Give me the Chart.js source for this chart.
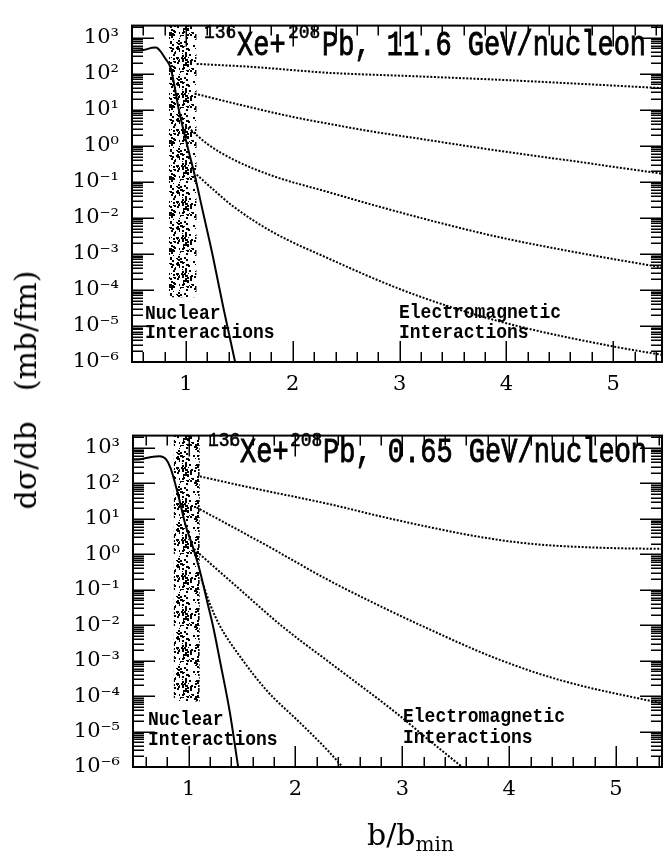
<!DOCTYPE html>
<html lang="en">
<head>
<meta charset="utf-8">
<title>Xe + Pb impact parameter distributions</title>
<script src="https://cdn.jsdelivr.net/npm/chart.js@4.4.1/dist/chart.umd.min.js"></script>
<style>
  html, body { margin: 0; padding: 0; background: #fff; }
  #figure { position: relative; width: 663px; height: 853px; overflow: hidden; background: #fff; }
  #figure canvas { position: absolute; left: 0; }
  #cvTop { top: 0; }
  #cvBottom { top: 410px; }
  .axis-title { position: absolute; font-family: "DejaVu Serif", serif; color: #000; white-space: nowrap; line-height: 1; }
  #yTitle { left: 26px; top: 390px; font-size: 30px; transform: translate(-50%, -50%) rotate(-90deg); }
  #yTitle .unit { margin-left: 30px; }
  #xTitle { left: 367px; top: 820px; font-size: 30px; }
  #xTitle sub { font-size: 20px; vertical-align: -6px; line-height: 0; }
</style>
</head>
<body>
<div id="figure">
  <canvas id="cvTop" width="663" height="410"></canvas>
  <canvas id="cvBottom" width="663" height="443"></canvas>
  <div class="axis-title" id="yTitle">dσ/db<span class="unit">(mb/fm)</span></div>
  <div class="axis-title" id="xTitle">b/b<sub>min</sub></div>
</div>
<script>
// x: b/b_min, y: dσ/db in mb/fm

// --- 11.6 GeV/nucleon ---
const topNuclearB   = [0.495, 0.6, 0.68, 0.72, 0.76, 0.8, 0.85, 0.88, 0.93, 1.0, 1.08, 1.16, 1.25, 1.35, 1.46];
const topNuclearSig = [440, 450, 520, 535, 420, 280, 160, 70, 11, 1.4, 0.16, 0.014, 9e-4, 3.2e-5, 1e-6];
const topEm1B   = [1.1, 1.6, 2.35, 3.13, 3.91, 4.7, 5.5];
const topEm1Sig = [186, 155, 105, 85, 68, 52, 39];
const topEm2B   = [1.08, 1.5, 2.0, 2.35, 2.7, 3.13, 3.91, 4.7, 5.5];
const topEm2Sig = [28, 13.8, 6.3, 4.0, 2.6, 1.66, 0.74, 0.35, 0.16];
const topEm3B   = [1.02, 1.2, 1.44, 1.8, 2.35, 2.82, 3.35, 3.91, 4.69, 5.5];
const topEm3Sig = [3.2, 1.12, 0.42, 0.15, 0.05, 0.02, 7.6e-3, 3.0e-3, 1.05e-3, 4.0e-4];
const topEm4B   = [1.1, 1.25, 1.44, 1.8, 2.35, 2.98, 3.5, 4.1, 5.0, 5.5];
const topEm4Sig = [0.158, 0.063, 0.021, 4.2e-3, 7.1e-4, 1.12e-4, 3.2e-5, 1.0e-5, 2.7e-6, 1.5e-6];
const topShadeB = [0.84, 1.1];
const topShadeFloor = 6.3e-5;

// --- 0.65 GeV/nucleon ---
const botNuclearB   = [0.48, 0.55, 0.65, 0.73, 0.79, 0.83, 0.87, 0.92, 0.97, 1.03, 1.1, 1.18, 1.23, 1.3, 1.386, 1.464];
const botNuclearSig = [470, 480, 560, 590, 480, 280, 112, 29, 6.9, 2.0, 0.4, 0.039, 9.1e-3, 7.9e-4, 3.5e-5, 1e-6];
const botEm1B   = [1.106, 1.6, 2.32, 2.8, 3.26, 3.7, 4.19, 4.81, 5.5];
const botEm1Sig = [158, 74, 26, 11.7, 5.8, 3.2, 2.0, 1.55, 1.41];
const botEm2B   = [1.075, 1.7, 2.32, 2.75, 3.2, 3.88, 4.5, 5.5];
const botEm2Sig = [21, 2.0, 0.18, 0.04, 9.1e-3, 1.15e-3, 2.7e-4, 5.6e-5];
const botEm3B   = [1.05, 1.45, 1.88, 2.32, 2.94, 3.26, 3.56, 3.6];
const botEm3Sig = [1.41, 0.123, 9.1e-3, 8.9e-4, 3.4e-5, 5.4e-6, 1e-6, 8e-7];
const botEm4B   = [1.12, 1.2, 1.29, 1.5, 1.73, 2.04, 2.29, 2.44, 2.5];
const botEm4Sig = [0.2, 0.04, 0.01, 1.1e-3, 1.45e-4, 1.8e-5, 3.2e-6, 1e-6, 6e-7];
const botShadeB = [0.86, 1.105];
const botShadeFloor = 7e-5;

// axis ticks
const yDecades = [-6, -5, -4, -3, -2, -1, 0, 1, 2, 3];
const xTickLabels = [1, 2, 3, 4, 5];

// ---------------------------------------------------------------

const SUP = { '-': '\u207B', '0': '\u2070', '1': '\u00B9', '2': '\u00B2', '3': '\u00B3',
  '4': '\u2074', '5': '\u2075', '6': '\u2076', '7': '\u2077', '8': '\u2078', '9': '\u2079' };
const sup = (s) => String(s).split('').map((c) => SUP[c]).join('');
const pts = (xs, ys) => xs.map((x, i) => ({ x: x, y: ys[i] }));

// speckled fill used for the nuclear-radius band
function stipple() {
  const c = document.createElement('canvas');
  c.width = 36; c.height = 36;
  const g = c.getContext('2d');
  g.fillStyle = '#000';
  for (let i = 0; i < 170; i++) {
    const hx = Math.abs(Math.sin(i * 12.9898) * 43758.5453) % 1;
    const hy = Math.abs(Math.sin(i * 78.233) * 24634.6345) % 1;
    const s = i % 3 === 0 ? 1 : 2;
    g.fillRect(Math.floor(hx * 36), Math.floor(hy * 36), s, s);
  }
  return g.createPattern(c, 'repeat');
}

function stretchText(ctx, text, x, base, font, sy, weight) {
  ctx.save();
  ctx.translate(x, base);
  ctx.scale(1, sy);
  ctx.font = font;
  ctx.fillText(text, 0, 0);
  if (weight) {
    ctx.lineWidth = weight;
    ctx.strokeText(text, 0, 0);
  }
  ctx.restore();
}

// frame, inward ticks on all four sides, and in-plot labels
function panelDecor(t) {
  return {
    id: 'panelDecor',
    afterDraw(chart) {
      const { ctx, chartArea: a, scales: { x, y } } = chart;
      ctx.save();
      ctx.strokeStyle = '#000';
      ctx.lineWidth = 1.5;
      ctx.beginPath();
      yDecades.forEach((e) => {
        for (let k = 1; k <= 9; k++) {
          const v = k * Math.pow(10, e);
          if (v < y.min * 0.999 || v > y.max) continue;
          const py = Math.round(y.getPixelForValue(v)) + 0.25;
          const len = k === 1 ? 22 : 11;
          ctx.moveTo(a.left, py); ctx.lineTo(a.left + len, py);
          ctx.moveTo(a.right, py); ctx.lineTo(a.right - len, py);
        }
      });
      for (let i = 1; i <= 30; i++) {
        const v = i / 5;
        if (v <= x.min || v >= x.max) continue;
        const px = Math.round(x.getPixelForValue(v)) + 0.25;
        const len = i % 5 === 0 ? 21 : 10;
        ctx.moveTo(px, a.bottom); ctx.lineTo(px, a.bottom - len);
        ctx.moveTo(px, a.top); ctx.lineTo(px, a.top + len);
      }
      ctx.stroke();
      ctx.lineWidth = 2;
      ctx.strokeRect(a.left, a.top, a.right - a.left, a.bottom - a.top);

      ctx.fillStyle = '#000';
      ctx.strokeStyle = '#000';
      ctx.textAlign = 'left';
      ctx.textBaseline = 'alphabetic';
      const big = '27px "Liberation Mono"';
      const small = '18px "Liberation Mono"';
      const lab = 'bold 18px "Liberation Mono"';
      stretchText(ctx, '136', t.sup1[0], t.sup1[1], small, 1.15, 0.5);
      stretchText(ctx, 'Xe+', t.xe[0], t.xe[1], big, 1.3, 0.7);
      stretchText(ctx, '208', t.sup2[0], t.sup2[1], small, 1.15, 0.5);
      stretchText(ctx, 'Pb, ' + t.beam, t.pb[0], t.pb[1], big, 1.3, 0.7);
      stretchText(ctx, 'Nuclear', t.nuc[0], t.nuc[1], lab, 1.1);
      stretchText(ctx, 'Interactions', t.nuc[0], t.nuc[2], lab, 1.1);
      stretchText(ctx, 'Electromagnetic', t.em[0], t.em[1], lab, 1.1);
      stretchText(ctx, 'Interactions', t.em[0], t.em[2], lab, 1.1);
      ctx.restore();
    }
  };
}

function emLine(xs, ys) {
  return { data: pts(xs, ys), borderColor: '#000', borderWidth: 2, borderDash: [2, 1.6],
    cubicInterpolationMode: 'monotone', pointRadius: 0, fill: false, clip: 0 };
}

function buildPanel(canvas, p) {
  const pattern = stipple();
  const datasets = [
    { data: pts(p.nucB, p.nucSig), borderColor: '#000', borderWidth: 2,
      cubicInterpolationMode: 'monotone', pointRadius: 0, fill: false, clip: 0 },
    emLine(p.em[0][0], p.em[0][1]),
    emLine(p.em[1][0], p.em[1][1]),
    emLine(p.em[2][0], p.em[2][1]),
    emLine(p.em[3][0], p.em[3][1]),
    { data: pts(p.shadeB, [p.yMax, p.yMax]), borderWidth: 0, borderColor: 'rgba(0,0,0,0)',
      backgroundColor: pattern, pointRadius: 0, fill: { value: p.shadeFloor }, clip: 0 }
  ];
  const tickFont = { family: '"DejaVu Serif", serif', size: 21 };
  return new Chart(canvas, {
    type: 'line',
    data: { datasets: datasets },
    options: {
      responsive: false,
      animation: false,
      events: [],
      layout: { padding: { top: p.padTop, right: 1, left: 0, bottom: 0 } },
      plugins: { legend: { display: false }, tooltip: { enabled: false } },
      scales: {
        x: {
          type: 'linear', min: p.xMin, max: p.xMax,
          grid: { display: false, drawTicks: false }, border: { display: false },
          afterBuildTicks: (s) => { s.ticks = xTickLabels.map((v) => ({ value: v })); },
          afterFit: (s) => { s.height = p.xAxisH; },
          ticks: { font: tickFont, color: '#000', padding: 10, maxRotation: 0, autoSkip: false,
            callback: (v) => String(v) }
        },
        y: {
          type: 'logarithmic', min: 1e-6, max: p.yMax,
          grid: { display: false, drawTicks: false }, border: { display: false },
          afterBuildTicks: (s) => { s.ticks = yDecades.map((e) => ({ value: Math.pow(10, e) })); },
          afterFit: (s) => { s.width = p.left; },
          ticks: { font: tickFont, color: '#000', padding: 13, autoSkip: false,
            callback: (v) => '10' + sup(Math.round(Math.log10(v))) }
        }
      }
    },
    plugins: [panelDecor(p.text)]
  });
}

buildPanel(document.getElementById('cvTop'), {
  nucB: topNuclearB, nucSig: topNuclearSig,
  em: [[topEm1B, topEm1Sig], [topEm2B, topEm2Sig], [topEm3B, topEm3Sig], [topEm4B, topEm4Sig]],
  shadeB: topShadeB, shadeFloor: topShadeFloor,
  xMin: 0.4944, xMax: 5.457, yMax: Math.pow(10, 3.333),
  padTop: 12, left: 132, xAxisH: 48,
  text: { beam: '11.6 GeV/nucleon', sup1: [204, 38], xe: [237, 55], sup2: [288, 38], pb: [322, 55],
    nuc: [145, 319, 338], em: [399, 318, 338] }
});

buildPanel(document.getElementById('cvBottom'), {
  nucB: botNuclearB, nucSig: botNuclearSig,
  em: [[botEm1B, botEm1Sig], [botEm2B, botEm2Sig], [botEm3B, botEm3Sig], [botEm4B, botEm4Sig]],
  shadeB: botShadeB, shadeFloor: botShadeFloor,
  xMin: 0.48, xMax: 5.43, yMax: Math.pow(10, 3.35),
  padTop: 10, left: 133, xAxisH: 86,
  text: { beam: '0.65 GeV/nucleon', sup1: [208, 36], xe: [240, 52], sup2: [290, 36], pb: [323, 52],
    nuc: [148, 315, 335], em: [403, 312, 333] }
});
</script>
</body>
</html>
